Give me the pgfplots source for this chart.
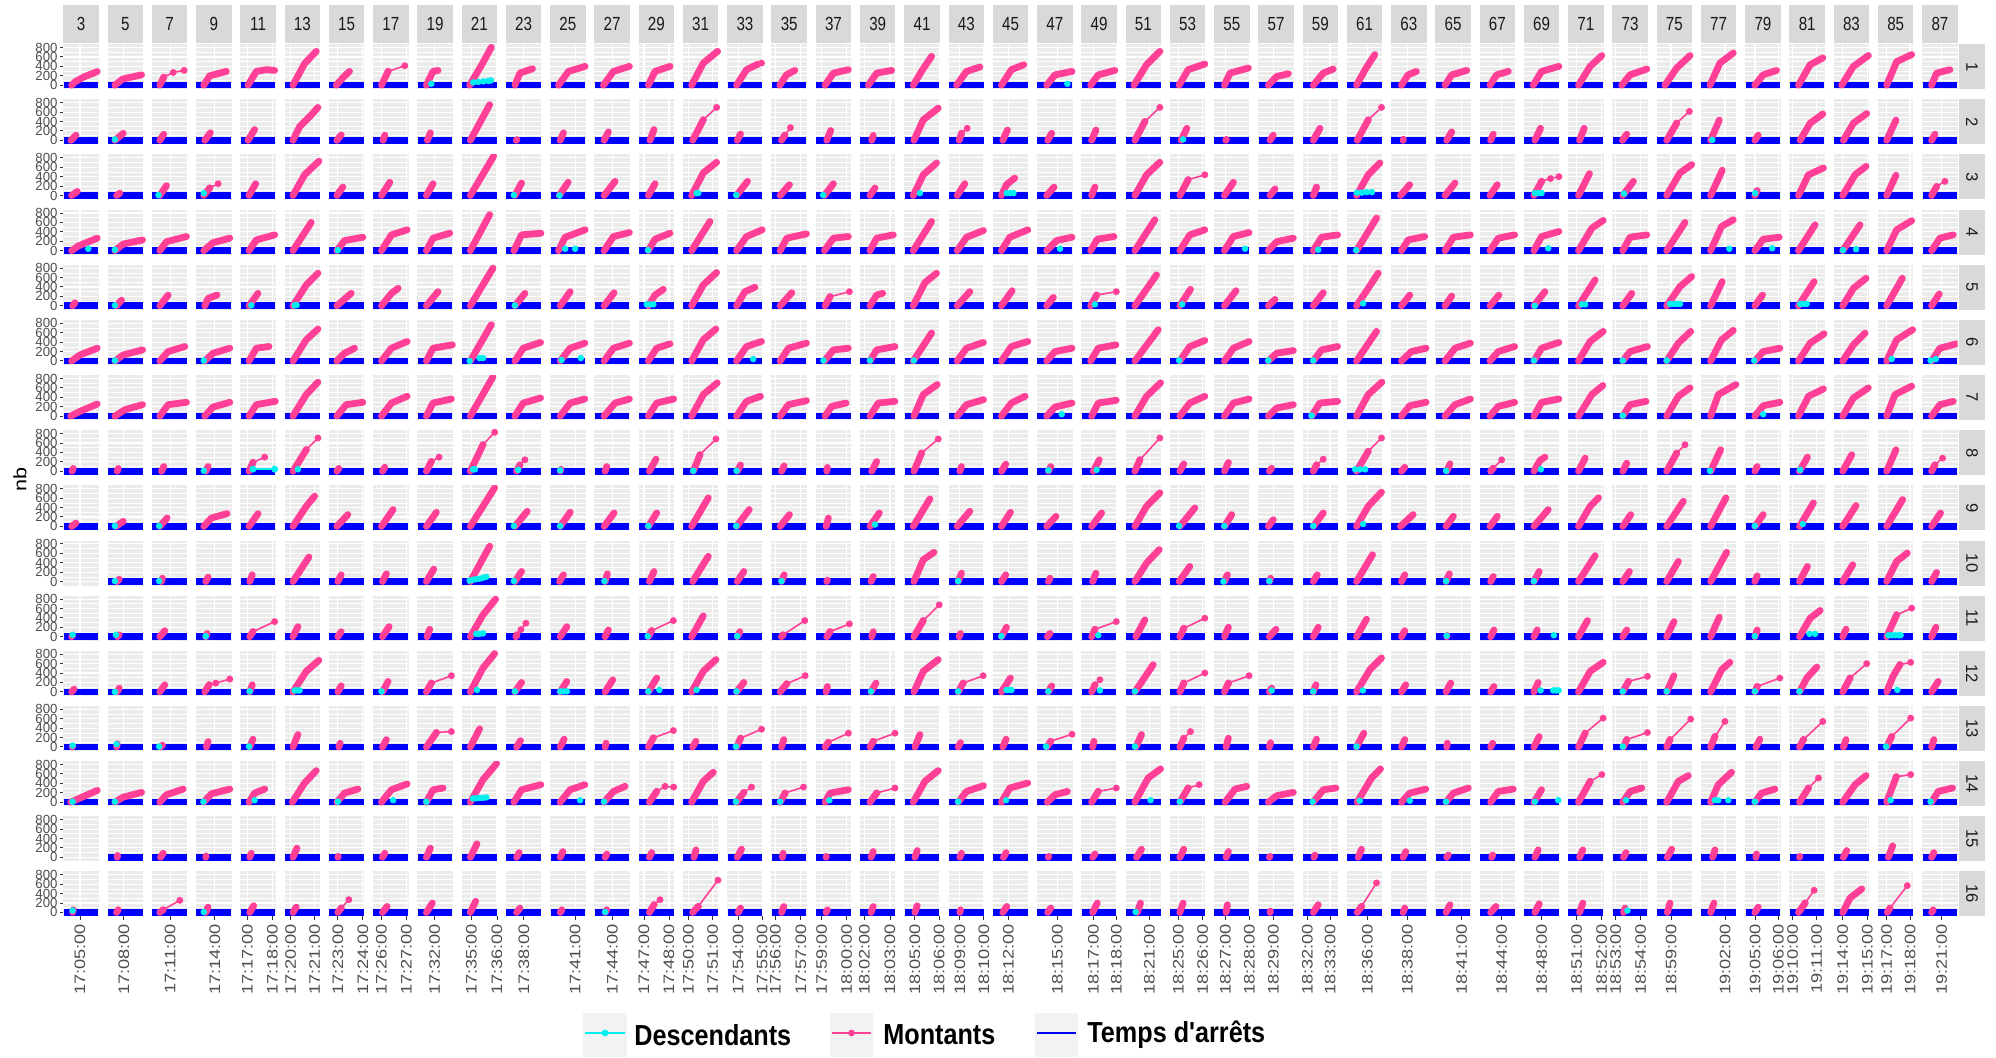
\documentclass[border=0pt]{standalone}
\usepackage{pgfplots}
\pgfplotsset{compat=1.18}
\usepackage{pgfplotstable}
\usepackage{fontspec}
\setmainfont{Liberation Sans}
\newfontfamily\legfont{Liberation Sans}[Ligatures=TeXOff]
\definecolor{panelbg}{RGB}{235,235,235}
\definecolor{stripbg}{RGB}{217,217,217}
\definecolor{legkey}{RGB}{242,242,242}
\definecolor{pinkc}{RGB}{255,64,150}
\definecolor{cyanc}{RGB}{0,240,240}
\definecolor{bluec}{RGB}{0,0,255}
\definecolor{grey30}{RGB}{77,77,77}
\definecolor{grey20}{RGB}{51,51,51}
\definecolor{grey10}{RGB}{26,26,26}

% ---------------- data: n = column (trip) label, u = position inside panel (0..106), y = nb
\pgfplotstableread[row sep=\\]{n u y\\3 1 0\\3 105 0\\}\blueA
\pgfplotstableread[row sep=\\]{n u y\\
5 1 0\\5 105 0\\0 0 nan\\7 1 0\\7 105 0\\0 0 nan\\9 1 0\\9 105 0\\0 0 nan\\11 1 0\\11 105 0\\0 0 nan\\
13 1 0\\13 105 0\\0 0 nan\\15 1 0\\15 105 0\\0 0 nan\\17 1 0\\17 105 0\\0 0 nan\\19 1 0\\19 105 0\\0 0 nan\\
21 1 0\\21 105 0\\0 0 nan\\23 1 0\\23 105 0\\0 0 nan\\25 1 0\\25 105 0\\0 0 nan\\27 1 0\\27 105 0\\0 0 nan\\
29 1 0\\29 105 0\\0 0 nan\\31 1 0\\31 105 0\\0 0 nan\\33 1 0\\33 105 0\\0 0 nan\\35 1 0\\35 105 0\\0 0 nan\\
37 1 0\\37 105 0\\0 0 nan\\39 1 0\\39 105 0\\0 0 nan\\41 1 0\\41 105 0\\0 0 nan\\43 1 0\\43 105 0\\0 0 nan\\
45 1 0\\45 105 0\\0 0 nan\\47 1 0\\47 105 0\\0 0 nan\\49 1 0\\49 105 0\\0 0 nan\\51 1 0\\51 105 0\\0 0 nan\\
53 1 0\\53 105 0\\0 0 nan\\55 1 0\\55 105 0\\0 0 nan\\57 1 0\\57 105 0\\0 0 nan\\59 1 0\\59 105 0\\0 0 nan\\
61 1 0\\61 105 0\\0 0 nan\\63 1 0\\63 105 0\\0 0 nan\\65 1 0\\65 105 0\\0 0 nan\\67 1 0\\67 105 0\\0 0 nan\\
69 1 0\\69 105 0\\0 0 nan\\71 1 0\\71 105 0\\0 0 nan\\73 1 0\\73 105 0\\0 0 nan\\75 1 0\\75 105 0\\0 0 nan\\
77 1 0\\77 105 0\\0 0 nan\\79 1 0\\79 105 0\\0 0 nan\\81 1 0\\81 105 0\\0 0 nan\\83 1 0\\83 105 0\\0 0 nan\\
85 1 0\\85 105 0\\0 0 nan\\87 1 0\\87 105 0\\}\blueB

% Row 1
\pgfplotstableread[row sep=\\]{n u y\\
3 25 0\\3 35 70\\3 60 170\\3 102 290\\0 0 nan\\5 22 0\\5 45 130\\5 102 220\\0 0 nan\\7 24 0\\7 36 170\\0 0 nan\\
9 23 0\\9 41 200\\9 91 293\\0 0 nan\\11 23 0\\11 48 293\\11 78 330\\11 103 315\\0 0 nan\\13 25 0\\13 60 460\\13 95 720\\0 0 nan\\
15 22 0\\15 45 180\\15 62 293\\0 0 nan\\17 25 0\\17 45 293\\0 0 nan\\19 27 0\\19 47 293\\19 62 314\\0 0 nan\\
21 24 0\\21 60 430\\21 89 806\\0 0 nan\\23 27 0\\23 42 257\\23 80 350\\0 0 nan\\25 25 0\\25 55 293\\25 105 400\\0 0 nan\\
27 27 0\\27 57 293\\27 105 400\\0 0 nan\\29 29 0\\29 49 293\\29 94 400\\0 0 nan\\31 26 0\\31 61 470\\31 104 720\\0 0 nan\\
33 28 0\\33 58 330\\33 90 440\\0 0 nan\\35 25 0\\35 45 220\\35 70 314\\0 0 nan\\37 28 0\\37 53 257\\37 98 330\\0 0 nan\\
39 25 0\\39 50 257\\39 95 314\\0 0 nan\\41 27 0\\41 55 330\\41 82 614\\0 0 nan\\43 24 0\\43 54 293\\43 94 385\\0 0 nan\\
45 26 0\\45 56 330\\45 93 435\\0 0 nan\\47 29 0\\47 54 220\\47 105 293\\0 0 nan\\49 28 0\\49 51 220\\49 101 314\\0 0 nan\\
51 25 0\\51 63 435\\51 103 720\\0 0 nan\\53 28 0\\53 55 330\\53 105 450\\0 0 nan\\55 31 0\\55 48 257\\55 103 365\\0 0 nan\\
57 30 0\\57 55 185\\57 90 243\\0 0 nan\\59 32 0\\59 62 257\\59 92 343\\0 0 nan\\61 29 0\\61 58 370\\61 84 650\\0 0 nan\\
63 31 0\\63 51 220\\63 76 293\\0 0 nan\\65 29 0\\65 49 220\\65 94 314\\0 0 nan\\67 31 0\\67 51 220\\67 86 293\\0 0 nan\\
69 28 0\\69 53 293\\69 105 400\\0 0 nan\\71 31 0\\71 66 400\\71 101 630\\0 0 nan\\73 28 0\\73 53 220\\73 103 343\\0 0 nan\\
75 25 0\\75 60 365\\75 100 630\\0 0 nan\\77 27 0\\77 57 470\\77 97 685\\0 0 nan\\79 29 0\\79 54 220\\79 94 314\\0 0 nan\\
81 27 0\\81 62 435\\81 100 580\\0 0 nan\\83 24 0\\83 59 400\\83 104 630\\0 0 nan\\85 26 0\\85 56 500\\85 101 650\\0 0 nan\\
87 28 0\\87 43 257\\87 83 330\\}\pA
\pgfplotstableread[row sep=\\]{n u y\\7 36 170\\7 64 270\\7 97 315\\0 0 nan\\17 45 293\\17 95 414\\0 0 nan\\33 90 440\\33 103 470\\}\sA
\pgfplotstableread[row sep=\\]{n u y\\19 42 30\\21 35 60\\21 50 70\\21 65 80\\21 80 90\\21 88 100\\47 91 30\\}\cA

% Row 2
\pgfplotstableread[row sep=\\]{n u y\\
3 23 0\\3 38 110\\0 0 nan\\5 22 0\\5 47 150\\0 0 nan\\7 24 0\\7 36 130\\0 0 nan\\9 26 0\\9 43 160\\0 0 nan\\
11 23 0\\11 43 230\\0 0 nan\\13 25 0\\13 45 290\\13 80 540\\13 100 700\\0 0 nan\\15 24 0\\15 37 115\\0 0 nan\\
17 30 0\\17 35 110\\0 0 nan\\19 30 0\\19 39 160\\0 0 nan\\21 26 0\\21 84 757\\0 0 nan\\23 31 0\\23 33 15\\0 0 nan\\
25 30 0\\25 40 160\\0 0 nan\\27 29 0\\27 42 180\\0 0 nan\\29 34 0\\29 46 230\\0 0 nan\\31 29 0\\31 61 435\\0 0 nan\\
33 30 0\\33 40 135\\0 0 nan\\35 30 0\\35 40 110\\0 0 nan\\37 33 0\\37 45 210\\0 0 nan\\39 35 0\\39 40 105\\0 0 nan\\
41 29 0\\41 57 435\\41 102 685\\0 0 nan\\43 32 0\\43 39 150\\0 0 nan\\45 30 0\\45 44 220\\0 0 nan\\47 32 0\\47 44 150\\0 0 nan\\
49 31 0\\49 44 220\\0 0 nan\\51 28 0\\51 58 400\\0 0 nan\\53 34 0\\53 51 255\\0 0 nan\\55 35 0\\55 37 20\\0 0 nan\\
57 35 0\\57 45 110\\0 0 nan\\59 32 0\\59 52 255\\0 0 nan\\61 31 0\\61 64 435\\0 0 nan\\63 36 0\\63 37 25\\0 0 nan\\
65 34 0\\65 49 180\\0 0 nan\\67 33 0\\67 41 130\\0 0 nan\\69 33 0\\69 50 255\\0 0 nan\\71 34 0\\71 48 255\\0 0 nan\\
73 30 0\\73 43 130\\0 0 nan\\75 30 0\\75 60 365\\0 0 nan\\77 29 0\\77 55 430\\0 0 nan\\79 29 0\\79 39 110\\0 0 nan\\
81 32 0\\81 62 365\\81 100 560\\0 0 nan\\83 29 0\\83 59 365\\83 99 570\\0 0 nan\\85 26 0\\85 54 430\\0 0 nan\\87 28 0\\87 38 130\\}\pB
\pgfplotstableread[row sep=\\]{n u y\\31 61 435\\31 101 700\\0 0 nan\\35 40 110\\35 57 270\\0 0 nan\\43 39 150\\43 56 255\\0 0 nan\\
51 58 400\\51 103 700\\0 0 nan\\61 64 435\\61 104 700\\0 0 nan\\75 60 365\\75 98 615\\}\sB
\pgfplotstableread[row sep=\\]{n u y\\5 22 20\\53 40 20\\77 34 10\\}\cB

% Row 3
\pgfplotstableread[row sep=\\]{n u y\\
3 25 0\\3 42 85\\0 0 nan\\5 27 0\\5 37 50\\0 0 nan\\7 24 0\\7 44 210\\0 0 nan\\9 23 0\\9 41 160\\0 0 nan\\
11 26 0\\11 46 250\\0 0 nan\\13 25 0\\13 60 440\\13 103 730\\0 0 nan\\15 24 0\\15 42 180\\0 0 nan\\17 25 0\\17 50 280\\0 0 nan\\
19 27 0\\19 47 250\\0 0 nan\\21 26 0\\21 96 835\\0 0 nan\\23 27 0\\23 47 265\\0 0 nan\\25 27 0\\25 54 280\\0 0 nan\\
27 29 0\\27 62 300\\0 0 nan\\29 29 0\\29 49 250\\0 0 nan\\31 26 0\\31 61 480\\31 101 707\\0 0 nan\\33 28 0\\33 61 300\\0 0 nan\\
35 26 0\\35 54 230\\0 0 nan\\37 26 0\\37 53 250\\0 0 nan\\39 30 0\\39 45 160\\0 0 nan\\41 27 0\\41 57 440\\41 97 690\\0 0 nan\\
43 26 0\\43 49 250\\0 0 nan\\45 26 0\\45 41 230\\45 66 370\\0 0 nan\\47 29 0\\47 51 180\\0 0 nan\\49 31 0\\49 41 180\\0 0 nan\\
51 28 0\\51 63 440\\51 103 707\\0 0 nan\\53 30 0\\53 55 335\\0 0 nan\\55 31 0\\55 58 280\\0 0 nan\\57 35 0\\57 50 140\\0 0 nan\\
59 32 0\\59 42 180\\0 0 nan\\61 29 0\\61 64 440\\61 99 690\\0 0 nan\\63 28 0\\63 56 230\\0 0 nan\\65 29 0\\65 59 265\\0 0 nan\\
67 31 0\\67 53 230\\0 0 nan\\69 30 0\\69 53 300\\0 0 nan\\71 31 0\\71 64 465\\0 0 nan\\73 31 0\\73 63 300\\0 0 nan\\
75 30 0\\75 70 480\\75 105 657\\0 0 nan\\77 29 0\\77 64 535\\0 0 nan\\79 29 0\\79 36 107\\0 0 nan\\81 27 0\\81 57 440\\81 102 585\\0 0 nan\\
83 27 0\\83 64 440\\83 97 620\\0 0 nan\\85 26 0\\85 54 430\\0 0 nan\\87 28 0\\87 43 190\\}\pC
\pgfplotstableread[row sep=\\]{n u y\\9 41 160\\9 66 250\\0 0 nan\\53 55 335\\53 105 440\\0 0 nan\\69 53 300\\69 80 360\\69 105 400\\0 0 nan\\87 43 190\\87 68 300\\}\sC
\pgfplotstableread[row sep=\\]{n u y\\7 20 10\\9 23 50\\23 24 10\\25 28 0\\31 41 50\\31 46 50\\33 27 10\\37 22 10\\41 47 50\\45 42 50\\45 52 50\\45 62 50\\
61 30 60\\61 45 60\\61 60 70\\61 75 70\\69 33 50\\69 43 50\\69 53 50\\73 35 40\\79 30 50\\}\cC

% Row 4
\pgfplotstableread[row sep=\\]{n u y\\
3 25 0\\3 45 100\\3 102 265\\0 0 nan\\5 22 0\\5 47 140\\5 105 228\\0 0 nan\\7 24 0\\7 44 190\\7 104 300\\0 0 nan\\
9 23 0\\9 51 170\\9 101 265\\0 0 nan\\11 26 0\\11 48 228\\11 103 335\\0 0 nan\\13 25 0\\13 80 600\\0 0 nan\\
15 24 0\\15 47 214\\15 102 285\\0 0 nan\\17 25 0\\17 55 335\\17 102 443\\0 0 nan\\19 27 0\\19 47 265\\19 97 370\\0 0 nan\\
21 26 0\\21 84 765\\0 0 nan\\23 24 0\\23 47 335\\23 105 370\\0 0 nan\\25 25 0\\25 45 285\\25 105 443\\0 0 nan\\
27 29 0\\27 57 300\\27 105 385\\0 0 nan\\29 29 0\\29 49 243\\29 94 370\\0 0 nan\\31 26 0\\31 81 620\\0 0 nan\\
33 28 0\\33 58 300\\33 105 443\\0 0 nan\\35 26 0\\35 46 265\\35 105 357\\0 0 nan\\37 26 0\\37 53 265\\37 98 300\\0 0 nan\\
39 30 0\\39 50 265\\39 100 335\\0 0 nan\\41 27 0\\41 82 620\\0 0 nan\\43 26 0\\43 54 285\\43 105 428\\0 0 nan\\
45 26 0\\45 51 285\\45 105 443\\0 0 nan\\47 29 0\\47 59 214\\47 105 285\\0 0 nan\\49 28 0\\49 48 243\\49 98 300\\0 0 nan\\
51 28 0\\51 88 657\\0 0 nan\\53 30 0\\53 60 335\\53 105 443\\0 0 nan\\55 31 0\\55 58 300\\55 105 385\\0 0 nan\\
57 30 0\\57 55 190\\57 105 265\\0 0 nan\\59 32 0\\59 57 285\\59 105 335\\0 0 nan\\61 29 0\\61 89 693\\0 0 nan\\
63 31 0\\63 51 228\\63 101 300\\0 0 nan\\65 29 0\\65 54 285\\65 105 335\\0 0 nan\\67 31 0\\67 56 265\\67 105 335\\0 0 nan\\
69 30 0\\69 53 300\\69 105 407\\0 0 nan\\71 31 0\\71 71 478\\71 105 643\\0 0 nan\\73 31 0\\73 53 285\\73 103 335\\0 0 nan\\
75 30 0\\75 85 600\\0 0 nan\\77 29 0\\77 62 514\\77 97 657\\0 0 nan\\79 29 0\\79 54 243\\79 102 285\\0 0 nan\\
81 27 0\\81 77 550\\0 0 nan\\83 27 0\\83 79 550\\0 0 nan\\85 26 0\\85 56 443\\85 101 636\\0 0 nan\\87 28 0\\87 53 265\\87 93 335\\}\pD
\pgfplotstableread[row sep=\\]{n u y\\3 75 40\\5 22 20\\15 27 10\\25 45 40\\25 75 40\\29 28 10\\47 69 40\\55 93 40\\59 47 20\\61 28 10\\69 73 50\\77 85 40\\79 81 50\\83 28 10\\83 67 30\\}\cD

% Row 5
\pgfplotstableread[row sep=\\]{n u y\\
3 28 0\\3 35 65\\0 0 nan\\5 27 0\\5 42 120\\0 0 nan\\7 24 0\\7 49 228\\0 0 nan\\9 26 0\\9 36 157\\9 63 228\\0 0 nan\\
11 26 0\\11 53 265\\0 0 nan\\13 25 0\\13 65 443\\13 100 693\\0 0 nan\\15 24 0\\15 67 265\\0 0 nan\\17 25 0\\17 55 265\\17 75 371\\0 0 nan\\
19 27 0\\19 62 300\\0 0 nan\\21 26 0\\21 94 800\\0 0 nan\\23 27 0\\23 57 265\\0 0 nan\\25 30 0\\25 60 300\\0 0 nan\\
27 29 0\\27 59 278\\0 0 nan\\29 29 0\\29 49 228\\29 74 350\\0 0 nan\\31 26 0\\31 61 443\\31 101 707\\0 0 nan\\33 28 0\\33 53 300\\33 83 393\\0 0 nan\\
35 26 0\\35 61 278\\0 0 nan\\37 28 0\\37 43 193\\0 0 nan\\39 30 0\\39 50 228\\39 68 265\\0 0 nan\\41 27 0\\41 62 493\\41 97 693\\0 0 nan\\
43 26 0\\43 64 300\\0 0 nan\\45 26 0\\45 58 321\\0 0 nan\\47 29 0\\47 49 178\\0 0 nan\\49 28 0\\49 46 228\\0 0 nan\\
51 28 0\\51 93 657\\0 0 nan\\53 30 0\\53 62 350\\0 0 nan\\55 31 0\\55 66 321\\0 0 nan\\57 30 0\\57 50 135\\0 0 nan\\
59 32 0\\59 62 278\\0 0 nan\\61 29 0\\61 94 693\\0 0 nan\\63 31 0\\63 56 228\\0 0 nan\\65 29 0\\65 49 207\\0 0 nan\\
67 31 0\\67 58 228\\0 0 nan\\69 30 0\\69 63 300\\0 0 nan\\71 31 0\\71 81 550\\0 0 nan\\73 31 0\\73 58 264\\0 0 nan\\
75 30 0\\75 70 407\\75 105 621\\0 0 nan\\77 29 0\\77 64 514\\0 0 nan\\79 29 0\\79 52 228\\0 0 nan\\81 27 0\\81 74 514\\0 0 nan\\
83 27 0\\83 59 371\\83 97 585\\0 0 nan\\85 26 0\\85 73 585\\0 0 nan\\87 28 0\\87 51 250\\}\pE
\pgfplotstableread[row sep=\\]{n u y\\37 43 193\\37 101 300\\0 0 nan\\49 46 228\\49 105 300\\}\sE
\pgfplotstableread[row sep=\\]{n u y\\5 22 10\\11 33 10\\13 30 10\\13 36 15\\23 27 10\\29 24 30\\29 34 30\\29 44 30\\49 41 30\\53 37 30\\61 49 50\\69 33 0\\
71 41 30\\71 51 30\\75 40 40\\75 50 40\\75 60 40\\75 70 40\\81 32 40\\81 42 40\\81 52 40\\}\cE

% Row 6
\pgfplotstableread[row sep=\\]{n u y\\
3 25 0\\3 50 128\\3 102 271\\0 0 nan\\5 22 0\\5 47 128\\5 105 235\\0 0 nan\\7 24 0\\7 49 200\\7 99 307\\0 0 nan\\
9 26 0\\9 51 164\\9 101 271\\0 0 nan\\11 26 0\\11 48 271\\11 86 307\\0 0 nan\\13 25 0\\13 65 450\\13 100 678\\0 0 nan\\
15 24 0\\15 47 164\\15 77 271\\0 0 nan\\17 25 0\\17 55 271\\17 102 414\\0 0 nan\\19 27 0\\19 47 271\\19 105 343\\0 0 nan\\
21 26 0\\21 89 771\\0 0 nan\\23 27 0\\23 52 271\\23 104 393\\0 0 nan\\25 30 0\\25 60 271\\25 104 378\\0 0 nan\\
27 29 0\\27 57 271\\27 105 378\\0 0 nan\\29 29 0\\29 54 271\\29 94 364\\0 0 nan\\31 26 0\\31 61 450\\31 99 678\\0 0 nan\\
33 28 0\\33 58 307\\33 103 414\\0 0 nan\\35 26 0\\35 51 271\\35 105 378\\0 0 nan\\37 26 0\\37 53 235\\37 98 271\\0 0 nan\\
39 30 0\\39 50 235\\39 105 307\\0 0 nan\\41 27 0\\41 82 593\\0 0 nan\\43 26 0\\43 54 271\\43 105 393\\0 0 nan\\
45 26 0\\45 56 307\\45 105 414\\0 0 nan\\47 29 0\\47 54 200\\47 105 271\\0 0 nan\\49 28 0\\49 51 271\\49 104 343\\0 0 nan\\
51 28 0\\51 98 664\\0 0 nan\\53 30 0\\53 60 307\\53 105 435\\0 0 nan\\55 31 0\\55 58 271\\55 105 414\\0 0 nan\\
57 30 0\\57 55 164\\57 105 221\\0 0 nan\\59 32 0\\59 57 235\\59 105 307\\0 0 nan\\61 29 0\\61 89 628\\0 0 nan\\
63 31 0\\63 61 200\\63 105 271\\0 0 nan\\65 29 0\\65 59 271\\65 105 378\\0 0 nan\\67 31 0\\67 56 200\\67 105 307\\0 0 nan\\
69 30 0\\69 53 271\\69 105 393\\0 0 nan\\71 31 0\\71 66 414\\71 105 628\\0 0 nan\\73 31 0\\73 53 200\\73 105 307\\0 0 nan\\
75 30 0\\75 65 378\\75 102 628\\0 0 nan\\77 29 0\\77 62 450\\77 97 650\\0 0 nan\\79 29 0\\79 54 200\\79 104 271\\0 0 nan\\
81 27 0\\81 62 378\\81 104 578\\0 0 nan\\83 27 0\\83 59 343\\83 94 593\\0 0 nan\\85 26 0\\85 56 450\\85 104 664\\0 0 nan\\
87 28 0\\87 53 271\\87 103 364\\}\pF
\pgfplotstableread[row sep=\\]{n u y\\5 22 10\\9 23 10\\21 24 0\\21 54 60\\21 64 60\\25 34 20\\25 92 60\\33 78 40\\37 23 10\\39 30 10\\41 29 10\\53 28 10\\
57 30 10\\59 32 10\\69 30 10\\73 31 10\\75 30 10\\79 27 10\\85 41 40\\87 25 10\\87 41 40\\}\cF

% Row 7
\pgfplotstableread[row sep=\\]{n u y\\
3 22 0\\3 50 100\\3 102 257\\0 0 nan\\5 22 0\\5 52 135\\5 105 243\\0 0 nan\\7 24 0\\7 49 243\\7 104 293\\0 0 nan\\
9 26 0\\9 51 193\\9 101 293\\0 0 nan\\11 26 0\\11 48 243\\11 105 314\\0 0 nan\\13 25 0\\13 65 457\\13 100 721\\0 0 nan\\
15 24 0\\15 52 243\\15 102 293\\0 0 nan\\17 25 0\\17 55 278\\17 102 421\\0 0 nan\\19 27 0\\19 47 278\\19 102 364\\0 0 nan\\
21 26 0\\21 94 835\\0 0 nan\\23 27 0\\23 52 278\\23 104 386\\0 0 nan\\25 30 0\\25 60 278\\25 104 364\\0 0 nan\\
27 29 0\\27 62 278\\27 105 364\\0 0 nan\\29 29 0\\29 54 278\\29 105 364\\0 0 nan\\31 26 0\\31 61 457\\31 103 707\\0 0 nan\\
33 28 0\\33 58 314\\33 100 421\\0 0 nan\\35 26 0\\35 51 243\\35 105 328\\0 0 nan\\37 28 0\\37 48 207\\37 91 278\\0 0 nan\\
39 30 0\\39 55 278\\39 105 314\\0 0 nan\\41 29 0\\41 57 457\\41 99 671\\0 0 nan\\43 26 0\\43 54 243\\43 105 350\\0 0 nan\\
45 26 0\\45 56 278\\45 97 421\\0 0 nan\\47 29 0\\47 54 193\\47 105 278\\0 0 nan\\49 31 0\\49 51 278\\49 105 336\\0 0 nan\\
51 28 0\\51 63 421\\51 105 707\\0 0 nan\\53 30 0\\53 60 278\\53 105 421\\0 0 nan\\55 31 0\\55 58 278\\55 105 364\\0 0 nan\\
57 30 0\\57 55 171\\57 105 243\\0 0 nan\\59 27 0\\59 52 278\\59 105 314\\0 0 nan\\61 29 0\\61 64 457\\61 105 721\\0 0 nan\\
63 31 0\\63 56 221\\63 105 293\\0 0 nan\\65 29 0\\65 59 243\\65 105 364\\0 0 nan\\67 31 0\\67 56 207\\67 105 293\\0 0 nan\\
69 30 0\\69 53 293\\69 105 364\\0 0 nan\\71 31 0\\71 71 457\\71 104 650\\0 0 nan\\73 31 0\\73 53 243\\73 101 314\\0 0 nan\\
75 30 0\\75 65 421\\75 100 600\\0 0 nan\\77 29 0\\77 52 457\\77 105 671\\0 0 nan\\79 29 0\\79 54 221\\79 104 293\\0 0 nan\\
81 27 0\\81 57 421\\81 102 578\\0 0 nan\\83 27 0\\83 59 386\\83 104 600\\0 0 nan\\85 26 0\\85 51 457\\85 101 636\\0 0 nan\\
87 28 0\\87 53 243\\87 93 314\\}\pG
\pgfplotstableread[row sep=\\]{n u y\\47 74 40\\59 27 10\\73 31 10\\79 54 40\\}\cG

% Row 8
\pgfplotstableread[row sep=\\]{n u y\\
3 26 0\\3 30 60\\0 0 nan\\5 29 0\\5 32 60\\0 0 nan\\7 29 0\\7 36 100\\0 0 nan\\9 29 0\\9 36 100\\0 0 nan\\
11 26 0\\11 38 186\\0 0 nan\\13 25 0\\13 65 457\\0 0 nan\\15 24 0\\15 30 60\\0 0 nan\\17 28 0\\17 35 85\\0 0 nan\\
19 27 0\\19 42 207\\0 0 nan\\21 26 0\\21 64 564\\0 0 nan\\23 32 0\\23 42 135\\0 0 nan\\25 30 0\\25 32 40\\0 0 nan\\
27 32 0\\27 37 100\\0 0 nan\\29 32 0\\29 52 257\\0 0 nan\\31 31 0\\31 51 350\\0 0 nan\\33 30 0\\33 40 135\\0 0 nan\\
35 30 0\\35 38 114\\0 0 nan\\37 33 0\\37 35 80\\0 0 nan\\39 35 0\\39 50 207\\0 0 nan\\41 29 0\\41 52 386\\0 0 nan\\
43 34 0\\43 39 100\\0 0 nan\\45 26 0\\45 39 150\\0 0 nan\\47 34 0\\47 41 100\\0 0 nan\\49 36 0\\49 54 243\\0 0 nan\\
51 28 0\\51 43 243\\0 0 nan\\53 30 0\\53 42 157\\0 0 nan\\55 31 0\\55 43 186\\0 0 nan\\57 33 0\\57 40 64\\0 0 nan\\
59 32 0\\59 42 135\\0 0 nan\\61 29 0\\61 64 421\\0 0 nan\\63 31 0\\63 41 85\\0 0 nan\\65 34 0\\65 44 157\\0 0 nan\\
67 33 0\\67 41 64\\0 0 nan\\69 30 0\\69 48 228\\69 63 300\\0 0 nan\\71 31 0\\71 51 278\\0 0 nan\\73 31 0\\73 43 171\\0 0 nan\\
75 30 0\\75 60 386\\0 0 nan\\77 29 0\\77 59 457\\0 0 nan\\79 29 0\\79 36 100\\0 0 nan\\81 30 0\\81 54 300\\0 0 nan\\
83 27 0\\83 54 350\\0 0 nan\\85 26 0\\85 54 457\\0 0 nan\\87 28 0\\87 38 135\\}\pH
\pgfplotstableread[row sep=\\]{n u y\\11 38 186\\11 73 300\\0 0 nan\\13 65 457\\13 100 707\\0 0 nan\\19 42 207\\19 65 300\\0 0 nan\\21 64 564\\21 99 828\\0 0 nan\\
23 42 135\\23 57 243\\0 0 nan\\31 51 350\\31 99 685\\0 0 nan\\41 52 386\\41 102 685\\0 0 nan\\51 43 243\\51 103 707\\0 0 nan\\
59 42 135\\59 62 257\\0 0 nan\\61 64 421\\61 104 707\\0 0 nan\\67 41 64\\67 66 243\\0 0 nan\\75 60 386\\75 85 564\\0 0 nan\\87 38 135\\87 61 278\\}\sH
\pgfplotstableread[row sep=\\]{n u y\\9 23 10\\13 40 40\\21 34 40\\21 40 40\\23 37 30\\25 30 20\\31 31 10\\33 28 10\\47 34 20\\49 46 30\\61 25 40\\61 40 40\\61 55 40\\
65 32 10\\69 51 40\\77 27 10\\81 32 30\\}\cH
\pgfplotstableread[row sep=\\]{n u y\\11 38 45\\11 103 45\\}\clH

% Row 9
\pgfplotstableread[row sep=\\]{n u y\\
3 25 0\\3 38 70\\0 0 nan\\5 25 0\\5 47 107\\0 0 nan\\7 24 0\\7 46 178\\0 0 nan\\9 23 0\\9 46 178\\9 93 271\\0 0 nan\\
11 26 0\\11 53 271\\0 0 nan\\13 25 0\\13 65 428\\13 90 643\\0 0 nan\\15 24 0\\15 57 250\\0 0 nan\\17 25 0\\17 60 357\\0 0 nan\\
19 27 0\\19 57 300\\0 0 nan\\21 26 0\\21 99 821\\0 0 nan\\23 27 0\\23 64 321\\0 0 nan\\25 30 0\\25 60 300\\0 0 nan\\
27 29 0\\27 59 286\\0 0 nan\\29 29 0\\29 54 286\\0 0 nan\\31 26 0\\31 76 607\\0 0 nan\\33 28 0\\33 66 357\\0 0 nan\\
35 26 0\\35 54 250\\0 0 nan\\37 31 0\\37 38 178\\0 0 nan\\39 30 0\\39 58 286\\0 0 nan\\41 27 0\\41 77 586\\0 0 nan\\
43 26 0\\43 64 321\\0 0 nan\\45 26 0\\45 53 300\\0 0 nan\\47 29 0\\47 57 214\\0 0 nan\\49 31 0\\49 61 286\\0 0 nan\\
51 28 0\\51 63 428\\51 103 714\\0 0 nan\\53 30 0\\53 75 393\\0 0 nan\\55 31 0\\55 53 250\\0 0 nan\\57 30 0\\57 45 143\\0 0 nan\\
59 32 0\\59 62 286\\0 0 nan\\61 29 0\\61 64 428\\61 104 728\\0 0 nan\\63 28 0\\63 66 250\\0 0 nan\\65 32 0\\65 54 214\\0 0 nan\\
67 31 0\\67 53 214\\0 0 nan\\69 30 0\\69 73 357\\0 0 nan\\71 31 0\\71 66 428\\71 91 607\\0 0 nan\\73 31 0\\73 55 250\\0 0 nan\\
75 30 0\\75 80 535\\0 0 nan\\77 29 0\\77 75 607\\0 0 nan\\79 29 0\\79 54 250\\0 0 nan\\81 30 0\\81 72 500\\0 0 nan\\
83 27 0\\83 67 443\\0 0 nan\\85 26 0\\85 74 571\\0 0 nan\\87 28 0\\87 55 286\\}\pI
\pgfplotstableread[row sep=\\]{n u y\\5 22 10\\7 22 10\\23 24 10\\25 30 10\\29 29 10\\33 27 10\\39 45 40\\53 28 10\\55 31 10\\59 32 10\\61 49 50\\79 29 10\\81 40 50\\}\cI

% Row 10
\pgfplotstableread[row sep=\\]{n u y\\
5 29 0\\5 35 50\\0 0 nan\\7 29 0\\7 32 70\\0 0 nan\\9 29 0\\9 36 93\\0 0 nan\\11 28 0\\11 36 143\\0 0 nan\\
13 25 0\\13 73 521\\0 0 nan\\15 27 0\\15 37 143\\0 0 nan\\17 28 0\\17 40 164\\0 0 nan\\19 27 0\\19 49 264\\0 0 nan\\
21 26 0\\21 84 750\\0 0 nan\\23 27 0\\23 47 214\\0 0 nan\\25 28 0\\25 40 143\\0 0 nan\\27 32 0\\27 39 164\\0 0 nan\\
29 32 0\\29 46 214\\0 0 nan\\31 29 0\\31 76 536\\0 0 nan\\33 30 0\\33 50 214\\0 0 nan\\35 30 0\\35 38 143\\0 0 nan\\
37 33 0\\37 35 30\\0 0 nan\\39 33 0\\39 40 107\\0 0 nan\\41 29 0\\41 57 464\\41 89 621\\0 0 nan\\43 29 0\\43 39 178\\0 0 nan\\
45 26 0\\45 39 143\\0 0 nan\\47 34 0\\47 39 70\\0 0 nan\\49 34 0\\49 44 178\\0 0 nan\\51 28 0\\51 63 393\\51 101 678\\0 0 nan\\
53 28 0\\53 60 321\\0 0 nan\\55 31 0\\55 40 143\\0 0 nan\\57 33 0\\57 37 70\\0 0 nan\\59 32 0\\59 44 143\\0 0 nan\\
61 29 0\\61 77 571\\0 0 nan\\63 31 0\\63 41 143\\0 0 nan\\65 32 0\\65 42 164\\0 0 nan\\67 33 0\\67 41 107\\0 0 nan\\
69 30 0\\69 46 214\\0 0 nan\\71 31 0\\71 81 550\\0 0 nan\\73 31 0\\73 51 214\\0 0 nan\\75 30 0\\75 65 428\\0 0 nan\\
77 29 0\\77 77 621\\0 0 nan\\79 29 0\\79 36 121\\0 0 nan\\81 30 0\\81 54 321\\0 0 nan\\83 27 0\\83 57 357\\0 0 nan\\
85 26 0\\85 56 428\\85 88 607\\0 0 nan\\87 28 0\\87 43 193\\}\pJ
\pgfplotstableread[row sep=\\]{n u y\\5 22 10\\7 22 10\\21 24 20\\21 34 40\\21 44 50\\21 54 60\\21 64 80\\21 74 100\\23 24 10\\27 30 10\\35 30 10\\43 29 10\\55 28 0\\57 33 10\\65 32 10\\69 30 10\\}\cJ

% Row 11
\pgfplotstableread[row sep=\\]{n u y\\
3 25 0\\3 28 30\\0 0 nan\\5 30 0\\5 35 40\\0 0 nan\\7 24 0\\7 39 128\\0 0 nan\\9 29 0\\9 33 70\\0 0 nan\\
11 28 0\\11 38 107\\0 0 nan\\13 25 0\\13 40 214\\0 0 nan\\15 27 0\\15 37 107\\0 0 nan\\17 28 0\\17 48 214\\0 0 nan\\
19 29 0\\19 37 157\\0 0 nan\\21 26 0\\21 64 464\\21 102 800\\0 0 nan\\23 30 0\\23 33 40\\0 0 nan\\25 30 0\\25 50 214\\0 0 nan\\
27 32 0\\27 42 143\\0 0 nan\\29 29 0\\29 39 128\\0 0 nan\\31 26 0\\31 61 443\\0 0 nan\\33 30 0\\33 38 107\\0 0 nan\\
35 30 0\\35 35 40\\0 0 nan\\37 33 0\\37 43 107\\0 0 nan\\39 35 0\\39 40 107\\0 0 nan\\41 29 0\\41 57 343\\0 0 nan\\
43 32 0\\43 36 70\\0 0 nan\\45 26 0\\45 41 200\\0 0 nan\\47 31 0\\47 39 70\\0 0 nan\\49 31 0\\49 41 157\\0 0 nan\\
51 31 0\\51 58 357\\0 0 nan\\53 30 0\\53 42 178\\0 0 nan\\55 31 0\\55 43 200\\0 0 nan\\57 33 0\\57 53 157\\0 0 nan\\
59 32 0\\59 47 200\\0 0 nan\\61 29 0\\61 59 371\\0 0 nan\\63 31 0\\63 41 128\\0 0 nan\\65 34 0\\65 35 25\\0 0 nan\\
67 33 0\\67 43 143\\0 0 nan\\69 30 0\\69 40 143\\0 0 nan\\71 31 0\\71 58 343\\0 0 nan\\73 31 0\\73 43 143\\0 0 nan\\
75 30 0\\75 52 321\\0 0 nan\\77 29 0\\77 55 414\\0 0 nan\\79 29 0\\79 36 143\\0 0 nan\\81 30 0\\81 62 393\\81 92 557\\0 0 nan\\
83 27 0\\83 37 157\\0 0 nan\\85 26 0\\85 56 464\\0 0 nan\\87 28 0\\87 41 200\\}\pK
\pgfplotstableread[row sep=\\]{n u y\\11 38 107\\11 103 321\\0 0 nan\\23 33 40\\23 45 150\\23 60 286\\0 0 nan\\29 39 128\\29 104 343\\0 0 nan\\
35 35 40\\35 100 343\\0 0 nan\\37 43 107\\37 101 271\\0 0 nan\\41 57 343\\41 105 678\\0 0 nan\\49 41 157\\49 105 321\\0 0 nan\\
53 42 178\\53 105 393\\0 0 nan\\85 56 464\\85 101 607\\}\sK
\pgfplotstableread[row sep=\\]{n u y\\3 28 40\\5 25 40\\9 29 10\\21 44 60\\21 54 60\\21 64 70\\29 27 10\\33 30 10\\45 26 10\\49 51 30\\65 34 20\\69 90 30\\
79 29 10\\81 60 60\\81 77 60\\85 31 30\\85 41 30\\85 51 30\\85 61 30\\85 68 30\\}\cK

% Row 12
\pgfplotstableread[row sep=\\]{n u y\\
3 25 0\\3 32 57\\0 0 nan\\5 29 0\\5 35 80\\0 0 nan\\7 24 0\\7 39 150\\0 0 nan\\9 26 0\\9 39 150\\0 0 nan\\
11 28 0\\11 36 150\\0 0 nan\\13 25 0\\13 65 436\\13 103 671\\0 0 nan\\15 27 0\\15 37 128\\0 0 nan\\17 28 0\\17 45 221\\0 0 nan\\
19 27 0\\19 42 186\\0 0 nan\\21 26 0\\21 64 507\\21 99 814\\0 0 nan\\23 27 0\\23 47 200\\0 0 nan\\25 30 0\\25 50 221\\0 0 nan\\
27 32 0\\27 55 257\\0 0 nan\\29 29 0\\29 54 293\\0 0 nan\\31 26 0\\31 61 436\\31 99 686\\0 0 nan\\33 28 0\\33 50 200\\0 0 nan\\
35 26 0\\35 46 171\\0 0 nan\\37 31 0\\37 35 114\\0 0 nan\\39 33 0\\39 48 186\\0 0 nan\\41 29 0\\41 57 436\\41 102 686\\0 0 nan\\
43 29 0\\43 44 186\\0 0 nan\\45 26 0\\45 53 293\\0 0 nan\\47 34 0\\47 44 128\\0 0 nan\\49 31 0\\49 41 150\\0 0 nan\\
51 28 0\\51 83 578\\0 0 nan\\53 30 0\\53 42 186\\0 0 nan\\55 31 0\\55 43 186\\0 0 nan\\57 33 0\\57 40 80\\0 0 nan\\
59 32 0\\59 40 150\\0 0 nan\\61 29 0\\61 69 471\\61 104 721\\0 0 nan\\63 31 0\\63 44 150\\0 0 nan\\65 32 0\\65 46 186\\0 0 nan\\
67 33 0\\67 43 114\\0 0 nan\\69 30 0\\69 43 200\\0 0 nan\\71 31 0\\71 66 436\\71 105 628\\0 0 nan\\73 31 0\\73 48 221\\0 0 nan\\
75 30 0\\75 52 343\\0 0 nan\\77 29 0\\77 62 471\\77 87 628\\0 0 nan\\79 29 0\\79 36 114\\0 0 nan\\81 30 0\\81 52 293\\81 82 528\\0 0 nan\\
83 27 0\\83 49 293\\0 0 nan\\85 26 0\\85 46 343\\85 66 578\\0 0 nan\\87 28 0\\87 48 221\\}\pL
\pgfplotstableread[row sep=\\]{n u y\\9 39 150\\9 59 186\\9 101 271\\0 0 nan\\19 42 186\\19 102 343\\0 0 nan\\35 46 171\\35 101 343\\0 0 nan\\
43 44 186\\43 104 343\\0 0 nan\\49 41 150\\49 56 257\\0 0 nan\\53 42 186\\53 105 400\\0 0 nan\\55 43 186\\55 105 343\\0 0 nan\\
73 48 221\\73 105 328\\0 0 nan\\79 36 114\\79 104 293\\0 0 nan\\83 49 293\\83 99 600\\0 0 nan\\85 66 578\\85 98 628\\}\sL
\pgfplotstableread[row sep=\\]{n u y\\5 22 0\\11 28 10\\13 30 30\\13 38 30\\13 45 30\\17 25 10\\21 46 40\\23 27 10\\25 30 10\\25 40 10\\25 50 10\\29 29 10\\29 62 40\\
31 41 40\\33 28 10\\39 33 10\\43 29 10\\45 41 40\\45 48 40\\45 56 40\\47 34 10\\49 56 30\\51 28 10\\57 40 30\\59 32 10\\61 48 30\\
69 50 30\\69 88 30\\69 96 30\\69 104 30\\73 31 10\\75 30 10\\79 29 10\\81 30 10\\85 58 40\\}\cL

% Row 13
\pgfplotstableread[row sep=\\]{n u y\\
3 27 0\\3 28 20\\0 0 nan\\5 27 0\\5 29 70\\0 0 nan\\7 26 0\\7 32 40\\0 0 nan\\9 31 0\\9 36 114\\0 0 nan\\
11 28 0\\11 38 164\\0 0 nan\\13 25 0\\13 40 264\\0 0 nan\\15 30 0\\15 34 80\\0 0 nan\\17 28 0\\17 40 157\\0 0 nan\\
19 27 0\\19 57 307\\0 0 nan\\21 26 0\\21 54 386\\0 0 nan\\23 32 0\\23 44 136\\0 0 nan\\25 30 0\\25 42 164\\0 0 nan\\
27 32 0\\27 35 80\\0 0 nan\\29 29 0\\29 44 193\\0 0 nan\\31 29 0\\31 39 121\\0 0 nan\\33 28 0\\33 40 186\\0 0 nan\\
35 30 0\\35 37 157\\0 0 nan\\37 28 0\\37 38 100\\0 0 nan\\39 30 0\\39 40 121\\0 0 nan\\41 32 0\\41 47 264\\0 0 nan\\
43 29 0\\43 36 93\\0 0 nan\\45 30 0\\45 40 164\\0 0 nan\\47 29 0\\47 41 121\\0 0 nan\\49 34 0\\49 38 121\\0 0 nan\\
51 31 0\\51 48 264\\0 0 nan\\53 30 0\\53 42 186\\0 0 nan\\55 36 0\\55 43 186\\0 0 nan\\57 33 0\\57 37 93\\0 0 nan\\
59 32 0\\59 42 164\\0 0 nan\\61 29 0\\61 51 293\\0 0 nan\\63 31 0\\63 41 157\\0 0 nan\\65 34 0\\65 36 80\\0 0 nan\\
67 33 0\\67 39 80\\0 0 nan\\69 30 0\\69 46 221\\0 0 nan\\71 31 0\\71 51 293\\0 0 nan\\73 33 0\\73 43 157\\0 0 nan\\
75 30 0\\75 40 157\\0 0 nan\\77 29 0\\77 42 221\\0 0 nan\\79 32 0\\79 44 164\\0 0 nan\\81 30 0\\81 42 157\\0 0 nan\\
83 29 0\\83 37 157\\0 0 nan\\85 26 0\\85 41 221\\0 0 nan\\87 28 0\\87 35 157\\}\pM
\pgfplotstableread[row sep=\\]{n u y\\19 57 307\\19 102 328\\0 0 nan\\29 44 193\\29 104 350\\0 0 nan\\33 40 186\\33 103 378\\0 0 nan\\37 38 100\\37 98 293\\0 0 nan\\
39 40 121\\39 105 293\\0 0 nan\\47 41 121\\47 105 271\\0 0 nan\\53 42 186\\53 62 328\\0 0 nan\\71 51 293\\71 105 614\\0 0 nan\\
73 43 157\\73 105 307\\0 0 nan\\75 40 157\\75 102 593\\0 0 nan\\77 42 221\\77 72 543\\0 0 nan\\81 42 157\\81 100 543\\0 0 nan\\85 41 221\\85 98 614\\}\sM
\pgfplotstableread[row sep=\\]{n u y\\3 28 30\\5 27 60\\7 22 10\\11 26 10\\33 26 10\\47 27 10\\51 28 10\\61 29 10\\73 31 10\\85 24 10\\}\cM

% Row 14
\pgfplotstableread[row sep=\\]{n u y\\
3 22 0\\3 50 86\\3 102 250\\0 0 nan\\5 22 0\\5 47 107\\5 102 207\\0 0 nan\\7 24 0\\7 44 157\\7 94 278\\0 0 nan\\
9 23 0\\9 46 178\\9 101 278\\0 0 nan\\11 26 0\\11 43 193\\11 73 278\\0 0 nan\\13 23 0\\13 60 407\\13 95 671\\0 0 nan\\
15 24 0\\15 47 193\\15 87 278\\0 0 nan\\17 25 0\\17 55 264\\17 102 386\\0 0 nan\\19 27 0\\19 47 264\\19 77 300\\0 0 nan\\
21 26 0\\21 64 478\\21 105 821\\0 0 nan\\23 24 0\\23 47 264\\23 105 371\\0 0 nan\\25 30 0\\25 60 264\\25 104 371\\0 0 nan\\
27 29 0\\27 57 228\\27 92 336\\0 0 nan\\29 32 0\\29 54 228\\0 0 nan\\31 26 0\\31 61 443\\31 91 636\\0 0 nan\\
33 28 0\\33 50 207\\0 0 nan\\35 26 0\\35 41 193\\0 0 nan\\37 28 0\\37 43 193\\37 98 264\\0 0 nan\\39 30 0\\39 50 193\\0 0 nan\\
41 27 0\\41 62 443\\41 102 671\\0 0 nan\\43 29 0\\43 54 228\\43 105 350\\0 0 nan\\45 26 0\\45 51 300\\45 105 407\\0 0 nan\\
47 31 0\\47 54 157\\47 91 228\\0 0 nan\\49 31 0\\49 51 228\\0 0 nan\\51 28 0\\51 68 514\\51 105 707\\0 0 nan\\
53 30 0\\53 55 300\\0 0 nan\\55 33 0\\55 63 278\\55 98 336\\0 0 nan\\57 30 0\\57 55 136\\57 105 207\\0 0 nan\\
59 32 0\\59 62 264\\59 100 300\\0 0 nan\\61 31 0\\61 74 514\\61 101 707\\0 0 nan\\63 31 0\\63 56 193\\63 104 278\\0 0 nan\\
65 32 0\\65 54 193\\65 99 300\\0 0 nan\\67 33 0\\67 56 228\\67 101 278\\0 0 nan\\69 30 0\\69 53 264\\0 0 nan\\
71 31 0\\71 66 443\\0 0 nan\\73 31 0\\73 53 228\\73 88 300\\0 0 nan\\75 30 0\\75 65 443\\75 95 564\\0 0 nan\\
77 29 0\\77 52 371\\77 92 636\\0 0 nan\\79 29 0\\79 49 193\\79 89 278\\0 0 nan\\81 30 0\\81 57 300\\0 0 nan\\
83 27 0\\83 64 371\\83 97 564\\0 0 nan\\85 26 0\\85 55 540\\0 0 nan\\87 28 0\\87 48 228\\87 91 300\\}\pN
\pgfplotstableread[row sep=\\]{n u y\\29 54 228\\29 79 336\\29 105 321\\0 0 nan\\33 50 207\\33 73 321\\0 0 nan\\35 41 193\\35 96 321\\0 0 nan\\
39 50 193\\39 105 300\\0 0 nan\\49 51 228\\49 105 300\\0 0 nan\\53 55 300\\53 88 371\\0 0 nan\\71 66 443\\71 101 586\\0 0 nan\\
81 57 300\\81 87 514\\0 0 nan\\85 55 540\\85 98 586\\}\sN
\pgfplotstableread[row sep=\\]{n u y\\3 28 10\\5 22 10\\9 22 10\\11 43 40\\15 27 10\\17 60 40\\19 27 10\\21 34 80\\21 44 80\\21 54 90\\21 64 90\\21 74 100\\
25 90 40\\27 29 10\\33 26 10\\35 26 10\\37 41 40\\43 29 10\\45 40 40\\51 75 40\\53 30 10\\59 30 10\\61 39 30\\63 56 30\\65 32 10\\
69 33 10\\69 103 40\\73 41 40\\77 42 40\\77 52 40\\77 82 40\\79 29 10\\85 38 40\\87 25 10\\}\cN

% Row 15
\pgfplotstableread[row sep=\\]{n u y\\
5 29 0\\5 30 40\\0 0 nan\\7 26 0\\7 34 86\\0 0 nan\\9 29 0\\9 30 30\\0 0 nan\\11 28 0\\11 33 86\\0 0 nan\\
13 25 0\\13 37 193\\0 0 nan\\15 27 0\\15 28 20\\0 0 nan\\17 28 0\\17 35 86\\0 0 nan\\19 27 0\\19 39 193\\0 0 nan\\
21 26 0\\21 46 286\\0 0 nan\\23 32 0\\23 40 100\\0 0 nan\\25 30 0\\25 38 121\\0 0 nan\\27 32 0\\27 37 71\\0 0 nan\\
29 32 0\\29 39 100\\0 0 nan\\31 33 0\\31 39 157\\0 0 nan\\33 30 0\\33 43 171\\0 0 nan\\35 33 0\\35 35 86\\0 0 nan\\
37 31 0\\37 32 20\\0 0 nan\\39 33 0\\39 40 121\\0 0 nan\\41 32 0\\41 39 143\\0 0 nan\\43 34 0\\43 39 86\\0 0 nan\\
45 32 0\\45 40 100\\0 0 nan\\47 34 0\\47 35 20\\0 0 nan\\49 34 0\\49 41 71\\0 0 nan\\51 33 0\\51 48 171\\0 0 nan\\
53 30 0\\53 42 171\\0 0 nan\\55 36 0\\55 43 121\\0 0 nan\\57 33 0\\57 35 20\\0 0 nan\\59 34 0\\59 37 50\\0 0 nan\\
61 34 0\\61 44 171\\0 0 nan\\63 36 0\\63 44 121\\0 0 nan\\65 34 0\\65 39 50\\0 0 nan\\67 36 0\\67 39 50\\0 0 nan\\
69 33 0\\69 43 157\\0 0 nan\\71 34 0\\71 44 157\\0 0 nan\\73 33 0\\73 41 100\\0 0 nan\\75 32 0\\75 45 171\\0 0 nan\\
77 35 0\\77 42 157\\0 0 nan\\79 32 0\\79 34 71\\0 0 nan\\81 30 0\\81 31 20\\0 0 nan\\83 29 0\\83 39 143\\0 0 nan\\
85 31 0\\85 44 243\\0 0 nan\\87 28 0\\87 35 100\\}\pO

% Row 16
\pgfplotstableread[row sep=\\]{n u y\\
3 28 0\\3 30 57\\0 0 nan\\5 27 0\\5 32 57\\0 0 nan\\7 24 0\\7 34 57\\0 0 nan\\9 29 0\\9 36 114\\0 0 nan\\
11 28 0\\11 40 143\\0 0 nan\\13 25 0\\13 35 114\\0 0 nan\\15 27 0\\15 37 93\\0 0 nan\\17 28 0\\17 42 128\\0 0 nan\\
19 27 0\\19 45 200\\0 0 nan\\21 26 0\\21 42 236\\0 0 nan\\23 32 0\\23 42 93\\0 0 nan\\25 30 0\\25 35 57\\0 0 nan\\
27 32 0\\27 37 57\\0 0 nan\\29 32 0\\29 46 164\\0 0 nan\\31 29 0\\31 46 128\\0 0 nan\\33 33 0\\33 40 93\\0 0 nan\\
35 30 0\\35 37 128\\0 0 nan\\37 31 0\\37 35 57\\0 0 nan\\39 33 0\\39 40 128\\0 0 nan\\41 32 0\\41 39 143\\0 0 nan\\
43 34 0\\43 36 57\\0 0 nan\\45 30 0\\45 42 128\\0 0 nan\\47 32 0\\47 41 93\\0 0 nan\\49 34 0\\49 48 200\\0 0 nan\\
51 35 0\\51 45 200\\0 0 nan\\53 30 0\\53 40 200\\0 0 nan\\55 36 0\\55 40 164\\0 0 nan\\57 35 0\\57 36 30\\0 0 nan\\
59 32 0\\59 47 164\\0 0 nan\\61 31 0\\61 44 128\\0 0 nan\\63 36 0\\63 41 93\\0 0 nan\\65 32 0\\65 44 164\\0 0 nan\\
67 33 0\\67 49 128\\0 0 nan\\69 33 0\\69 46 186\\0 0 nan\\71 34 0\\71 44 200\\0 0 nan\\73 33 0\\73 38 93\\0 0 nan\\
75 32 0\\75 40 200\\0 0 nan\\77 29 0\\77 39 200\\0 0 nan\\79 29 0\\79 39 114\\0 0 nan\\81 27 0\\81 47 200\\0 0 nan\\
83 27 0\\83 49 307\\83 84 500\\0 0 nan\\85 28 0\\85 36 93\\0 0 nan\\87 28 0\\87 33 57\\}\pP
\pgfplotstableread[row sep=\\]{n u y\\7 34 57\\7 84 257\\0 0 nan\\15 37 93\\15 60 271\\0 0 nan\\29 46 164\\29 64 271\\0 0 nan\\31 46 128\\31 105 686\\0 0 nan\\
61 44 128\\61 89 628\\0 0 nan\\81 47 200\\81 74 471\\0 0 nan\\85 36 93\\85 88 571\\}\sP
\pgfplotstableread[row sep=\\]{n u y\\3 28 40\\9 23 10\\27 32 10\\51 30 10\\73 45 40\\}\cP

\def\xtickpos{80.0,123.9,170.2,214.8,247.3,272.3,290.6,314.6,337.9,362.9,381.5,406.5,434.7,471.3,497.0,523.9,575.2,612.4,644.0,669.0,688.3,712.6,738.2,762.2,775.5,800.8,821.7,846.7,864.3,890.0,914.9,939.2,959.8,983.8,1008.3,1057.3,1093.3,1116.5,1149.3,1178.3,1202.7,1225.4,1249.4,1273.3,1307.3,1330.0,1367.3,1407.3,1461.7,1501.7,1541.7,1576.7,1601.7,1615.7,1640.7,1671.0,1725.0,1755.0,1778.3,1792.7,1816.7,1842.7,1867.3,1886.7,1910.0,1941.7}

\pgfplotsset{
  /pgfplots/table/pxt/.style={x expr={63.3+22.13*(\thisrow{n}-3)+\thisrow{u}/3}, y=y},
  rowax/.style={
    scale only axis, width=947.2pt, height=22.5pt, anchor=south west,
    xmin=63.3, xmax=1957.7, ymin=-85, ymax=872,
    axis line style={draw=none},
    ytick={0,200,400,600,800}, minor ytick={100,300,500,700},
    xtick=\xtickpos,
    xmajorgrids, ymajorgrids, yminorgrids,
    major grid style={white, line width=0.55pt},
    minor grid style={white, line width=0.3pt},
    tick align=outside, ytick pos=left, xtick pos=left,
    major tick length=1.7pt, minor tick length=0pt,
    tick style={grey20, line width=0.5pt},
    yticklabel style={font=\fontsize{6.6}{6.8}\selectfont, text=grey30, inner sep=1pt},
    /pgf/number format/assume math mode=true,
    unbounded coords=jump,
    xticklabels={}, xtick style={draw=none},
  },
  lastrow/.style={
    xtick style={draw=grey20, line width=0.5pt},
    xticklabel style={rotate=90, anchor=east, font=\fontsize{7.6}{8}\selectfont, text=grey30, xscale=1.2, inner sep=1.5pt},
    xticklabels={17:05:00,17:08:00,17:11:00,17:14:00,17:17:00,17:18:00,17:20:00,17:21:00,17:23:00,17:24:00,17:26:00,17:27:00,17:32:00,17:35:00,17:36:00,17:38:00,17:41:00,17:44:00,17:47:00,17:48:00,17:50:00,17:51:00,17:54:00,17:55:00,17:56:00,17:57:00,17:59:00,18:00:00,18:02:00,18:03:00,18:05:00,18:06:00,18:09:00,18:10:00,18:12:00,18:15:00,18:17:00,18:18:00,18:21:00,18:25:00,18:26:00,18:27:00,18:28:00,18:29:00,18:32:00,18:33:00,18:36:00,18:38:00,18:41:00,18:44:00,18:48:00,18:51:00,18:52:00,18:53:00,18:54:00,18:59:00,19:02:00,19:05:00,19:06:00,19:10:00,19:11:00,19:14:00,19:15:00,19:17:00,19:18:00,19:21:00},
  },
  blueL/.style={color=bluec, line width=3.3pt, line cap=butt, mark=none},
  pinkM/.style={color=pinkc, line width=3.4pt, line cap=round, line join=round, mark=none},
  pinkS/.style={color=pinkc, line width=0.8pt, mark=*, mark size=1.3pt},
  cyanP/.style={color=cyanc, only marks, mark=*, mark size=1.4pt},
  cyanL/.style={color=cyanc, line width=0.8pt, mark=*, mark size=1.3pt},
}

\newcommand{\panelrow}[3]{\begin{axis}[rowax, at={(31.65pt,#1)}, #2]#3\end{axis}}

\begin{document}
\begin{tikzpicture}[x=0.5pt, y=0.5pt]
\useasboundingbox (0,0) rectangle (1996,1058);
% panel backgrounds
\foreach \r in {0,...,15}{
  \foreach \c in {0,...,42}{
    \pgfmathsetmacro\xa{63.3+44.26*\c}
    \pgfmathsetmacro\yb{968.8-55.15*\r}
    \fill[panelbg] (\xa,\yb) rectangle ++(35.5,45);
  }
}
% top strips
\foreach \c [evaluate=\c as \lab using int(3+2*\c)] in {0,...,42}{
  \pgfmathsetmacro\xa{63.3+44.26*\c}
  \fill[stripbg] (\xa,1015.3) rectangle ++(35.5,37.7);
  \node[text=grey10, font=\fontsize{9.5}{10}\selectfont, xscale=0.8, inner sep=0pt] at (\xa+17.75,1034) {\lab};
}
% right strips
\foreach \r [evaluate=\r as \lab using int(\r+1)] in {0,...,15}{
  \pgfmathsetmacro\yb{968.8-55.15*\r}
  \fill[stripbg] (1959,\yb) rectangle ++(26,45);
  \node[text=grey10, font=\fontsize{8.3}{9}\selectfont, rotate=-90, inner sep=0pt] at (1972,\yb+22.5) {\lab};
}
% y axis title
\node[rotate=90, font=\fontsize{9}{10}\selectfont, xscale=1.2] at (20,578) {nb};

\panelrow{484.4pt}{}{\addplot[blueL] table[pxt]{\blueA};\addplot[blueL] table[pxt]{\blueB};
 \addplot[pinkM] table[pxt]{\pA};\addplot[pinkS] table[pxt]{\sA};\addplot[cyanP] table[pxt]{\cA};}
\panelrow{456.825pt}{}{\addplot[blueL] table[pxt]{\blueA};\addplot[blueL] table[pxt]{\blueB};
 \addplot[pinkM] table[pxt]{\pB};\addplot[pinkS] table[pxt]{\sB};\addplot[cyanP] table[pxt]{\cB};}
\panelrow{429.25pt}{}{\addplot[blueL] table[pxt]{\blueA};\addplot[blueL] table[pxt]{\blueB};
 \addplot[pinkM] table[pxt]{\pC};\addplot[pinkS] table[pxt]{\sC};\addplot[cyanP] table[pxt]{\cC};}
\panelrow{401.675pt}{}{\addplot[blueL] table[pxt]{\blueA};\addplot[blueL] table[pxt]{\blueB};
 \addplot[pinkM] table[pxt]{\pD};\addplot[cyanP] table[pxt]{\cD};}
\panelrow{374.1pt}{}{\addplot[blueL] table[pxt]{\blueA};\addplot[blueL] table[pxt]{\blueB};
 \addplot[pinkM] table[pxt]{\pE};\addplot[pinkS] table[pxt]{\sE};\addplot[cyanP] table[pxt]{\cE};}
\panelrow{346.525pt}{}{\addplot[blueL] table[pxt]{\blueA};\addplot[blueL] table[pxt]{\blueB};
 \addplot[pinkM] table[pxt]{\pF};\addplot[cyanP] table[pxt]{\cF};}
\panelrow{318.95pt}{}{\addplot[blueL] table[pxt]{\blueA};\addplot[blueL] table[pxt]{\blueB};
 \addplot[pinkM] table[pxt]{\pG};\addplot[cyanP] table[pxt]{\cG};}
\panelrow{291.375pt}{}{\addplot[blueL] table[pxt]{\blueA};\addplot[blueL] table[pxt]{\blueB};
 \addplot[pinkM] table[pxt]{\pH};\addplot[pinkS] table[pxt]{\sH};\addplot[cyanL] table[pxt]{\clH};\addplot[cyanP] table[pxt]{\cH};}
\panelrow{263.8pt}{}{\addplot[blueL] table[pxt]{\blueA};\addplot[blueL] table[pxt]{\blueB};
 \addplot[pinkM] table[pxt]{\pI};\addplot[cyanP] table[pxt]{\cI};}
\panelrow{236.225pt}{}{\addplot[blueL] table[pxt]{\blueB};
 \addplot[pinkM] table[pxt]{\pJ};\addplot[cyanP] table[pxt]{\cJ};}
\panelrow{208.65pt}{}{\addplot[blueL] table[pxt]{\blueA};\addplot[blueL] table[pxt]{\blueB};
 \addplot[pinkM] table[pxt]{\pK};\addplot[pinkS] table[pxt]{\sK};\addplot[cyanP] table[pxt]{\cK};}
\panelrow{181.075pt}{}{\addplot[blueL] table[pxt]{\blueA};\addplot[blueL] table[pxt]{\blueB};
 \addplot[pinkM] table[pxt]{\pL};\addplot[pinkS] table[pxt]{\sL};\addplot[cyanP] table[pxt]{\cL};}
\panelrow{153.5pt}{}{\addplot[blueL] table[pxt]{\blueA};\addplot[blueL] table[pxt]{\blueB};
 \addplot[pinkM] table[pxt]{\pM};\addplot[pinkS] table[pxt]{\sM};\addplot[cyanP] table[pxt]{\cM};}
\panelrow{125.925pt}{}{\addplot[blueL] table[pxt]{\blueA};\addplot[blueL] table[pxt]{\blueB};
 \addplot[pinkM] table[pxt]{\pN};\addplot[pinkS] table[pxt]{\sN};\addplot[cyanP] table[pxt]{\cN};}
\panelrow{98.35pt}{}{\addplot[blueL] table[pxt]{\blueB};
 \addplot[pinkM] table[pxt]{\pO};}
\panelrow{70.775pt}{lastrow}{\addplot[blueL] table[pxt]{\blueA};\addplot[blueL] table[pxt]{\blueB};
 \addplot[pinkM] table[pxt]{\pP};\addplot[pinkS] table[pxt]{\sP};\addplot[cyanP] table[pxt]{\cP};}

% legend
\fill[legkey] (583,1) rectangle (627,45);
\draw[cyanc, line width=1.3pt] (585,25) -- (625,25);
\fill[cyanc] (605,25) circle (3.4);
\node[anchor=west, font=\legfont\fontsize{12.6}{14}\selectfont\bfseries, yscale=1.15, inner sep=0pt] at (634,23) {Descendants};
\fill[legkey] (830,1) rectangle (873,45);
\draw[pinkc, line width=1.3pt] (832,25) -- (871,25);
\fill[pinkc] (851.5,25) circle (3.4);
\node[anchor=west, font=\legfont\fontsize{12.6}{14}\selectfont\bfseries, yscale=1.15, inner sep=0pt] at (883,23) {Montants};
\fill[legkey] (1035,1) rectangle (1078,45);
\draw[bluec, line width=1.3pt] (1037,25) -- (1076,25);
\node[anchor=west, font=\legfont\fontsize{12.6}{14}\selectfont\bfseries, yscale=1.15, inner sep=0pt] at (1087,23) {Temps d'arrêts};
\end{tikzpicture}
\end{document}
